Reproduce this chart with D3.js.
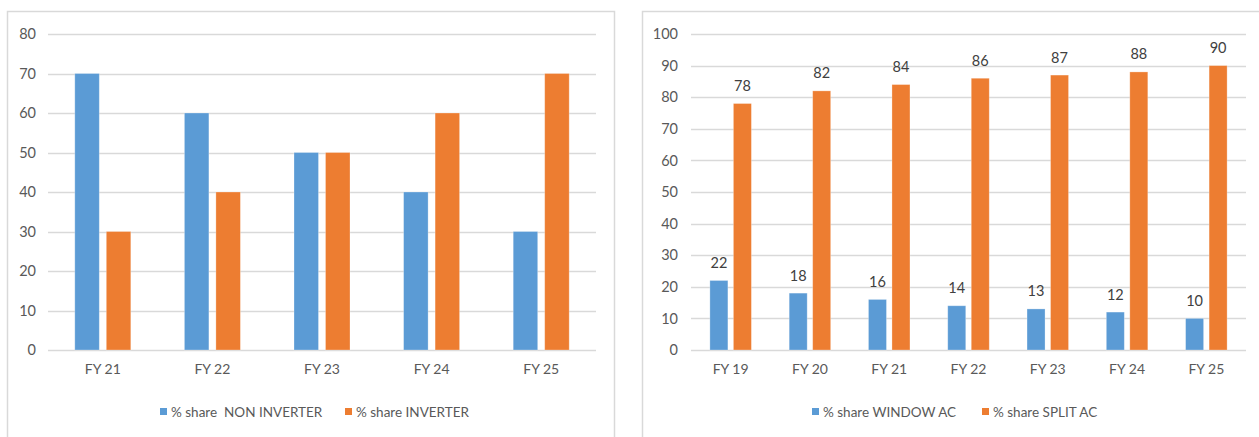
<!DOCTYPE html>
<html>
<head>
<meta charset="utf-8">
<script src="https://cdn.jsdelivr.net/npm/d3@7"></script>
<style>
  html, body { margin: 0; padding: 0; background: #fff; }
  svg { display: block; font-family: Lato, "Liberation Sans", sans-serif; }
  .legend-text { white-space: pre; }
</style>
</head>
<body>
<svg id="chart" width="1259" height="437"></svg>
<script>
// Inverter vs non-inverter share
const invYears = ["FY 21", "FY 22", "FY 23", "FY 24", "FY 25"];
const nonInverterShare = [70, 60, 50, 40, 30];
const inverterShare = [30, 40, 50, 60, 70];
const invTicks = [0, 10, 20, 30, 40, 50, 60, 70, 80];
const invLegend = ["% share  NON INVERTER", "% share INVERTER"];

// Window vs split AC share
const acYears = ["FY 19", "FY 20", "FY 21", "FY 22", "FY 23", "FY 24", "FY 25"];
const windowShare = [22, 18, 16, 14, 13, 12, 10];
const splitShare = [78, 82, 84, 86, 87, 88, 90];
const acTicks = [0, 10, 20, 30, 40, 50, 60, 70, 80, 90, 100];
const acLegend = ["% share WINDOW AC", "% share SPLIT AC"];

const BLUE = "#5B9BD5", ORANGE = "#ED7D31";
const GRID = "#d9d9d9", TEXT = "#595959";

const svg = d3.select("#chart");

// panel frames (bottom runs past the window edge)
svg.append("rect").attr("x", 7.5).attr("y", 11.5).attr("width", 607).attr("height", 460)
  .attr("fill", "none").attr("stroke", GRID).attr("stroke-width", 1.5);
svg.append("rect").attr("x", 642.5).attr("y", 11.5).attr("width", 700).attr("height", 460)
  .attr("fill", "none").attr("stroke", GRID).attr("stroke-width", 1.5);

function drawPanel(cfg) {
  const g = svg.append("g");
  const x = d3.scaleBand().domain(cfg.cats).range([cfg.left, cfg.right]).padding(0);
  const y = d3.scaleLinear().domain([0, cfg.max]).range([350, 34]);
  const series = d3.scaleBand().domain([0, 1])
    .range([0, 2 * cfg.barW + cfg.gap]).paddingInner(cfg.gap / (cfg.barW + cfg.gap));

  // gridlines
  g.append("g").selectAll("line").data(cfg.ticks).join("line")
    .attr("x1", cfg.left).attr("x2", cfg.right)
    .attr("y1", d => Math.round(y(d)) + 0.5).attr("y2", d => Math.round(y(d)) + 0.5)
    .attr("stroke", GRID).attr("stroke-width", 1.6);

  // y axis labels
  const yAxis = d3.axisLeft(y).tickValues(cfg.ticks).tickSize(0).tickPadding(0);
  const ya = g.append("g").attr("transform", `translate(${cfg.tickX},0)`).call(yAxis);
  ya.select(".domain").remove();
  ya.selectAll("text").attr("fill", TEXT).style("font-size", "14.5px")
    .style("font-family", "Lato, 'Liberation Sans', sans-serif");

  // x axis labels
  const xAxis = d3.axisBottom(x).tickSize(0).tickPadding(0);
  const xa = g.append("g").attr("transform", "translate(0,364)").call(xAxis);
  xa.select(".domain").remove();
  xa.selectAll("text").attr("fill", TEXT).style("font-size", "14px")
    .style("font-family", "Lato, 'Liberation Sans', sans-serif");

  const groupW = 2 * cfg.barW + cfg.gap;
  const rows = cfg.cats.map((c, i) => ({ c, vals: [cfg.a[i], cfg.b[i]] }));
  const grp = g.append("g").selectAll("g").data(rows).join("g")
    .attr("transform", d => `translate(${x(d.c) + x.bandwidth() / 2 - groupW / 2},0)`);
  grp.selectAll("rect").data(d => d.vals.map((v, k) => ({ v, k }))).join("rect")
    .attr("x", d => series(d.k)).attr("width", series.bandwidth())
    .attr("y", d => y(d.v)).attr("height", d => y(0) - y(d.v))
    .attr("fill", d => d.k === 0 ? BLUE : ORANGE)
    .attr("stroke", "#fff").attr("stroke-opacity", 0.35).attr("stroke-width", 0.8);

  if (cfg.labels) {
    grp.selectAll("text.val").data(d => d.vals.map((v, k) => ({ v, k }))).join("text")
      .attr("class", "val")
      .attr("x", d => series(d.k) + series.bandwidth() / 2)
      .attr("y", d => y(d.v) - 12.5)
      .attr("text-anchor", "middle")
      .attr("fill", "#404040").style("font-size", "14.5px")
      .text(d => d.v);
  }

  // legend
  const lg = g.append("g").selectAll("g").data(cfg.legend).join("g")
    .attr("transform", (d, i) => `translate(${cfg.legendX[i]},412)`);
  lg.append("rect").attr("x", 0).attr("y", -4).attr("width", 7).attr("height", 7)
    .attr("fill", (d, i) => i === 0 ? BLUE : ORANGE);
  lg.append("text").attr("class", "legend-text").attr("x", 11).attr("y", 0).attr("dy", "0.35em")
    .attr("fill", TEXT).style("font-size", "13.5px")
    .text(d => d);
}

drawPanel({
  cats: invYears, a: nonInverterShare, b: inverterShare, ticks: invTicks, max: 80,
  left: 48, right: 596, tickX: 36, barW: 24.5, gap: 7, labels: false,
  legend: invLegend, legendX: [160, 345]
});

drawPanel({
  cats: acYears, a: windowShare, b: splitShare, ticks: acTicks, max: 100,
  left: 691, right: 1246, tickX: 678, barW: 18, gap: 5.5, labels: true,
  legend: acLegend, legendX: [812, 982]
});
</script>
</body>
</html>
